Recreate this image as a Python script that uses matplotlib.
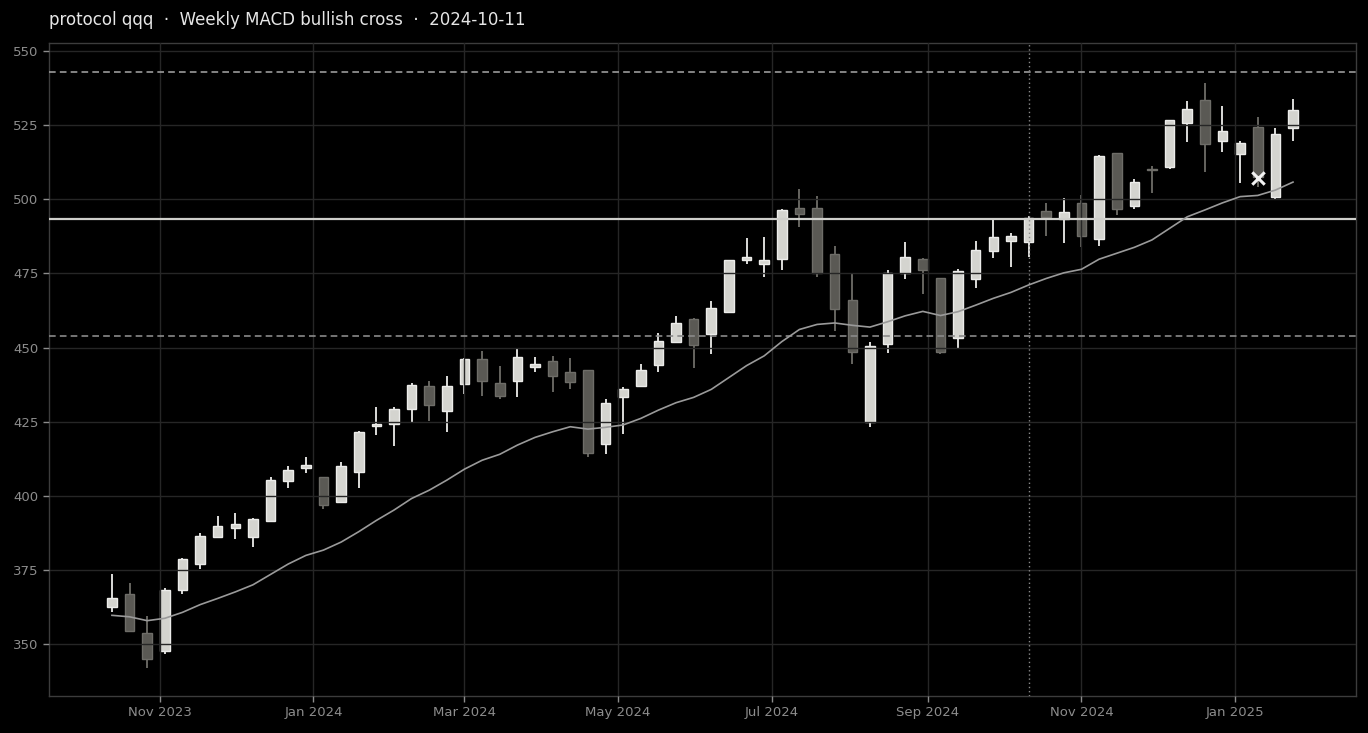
import matplotlib
matplotlib.use("Agg")
import matplotlib.pyplot as plt
import matplotlib.dates as mdates
import numpy as np
import pandas as pd

# ---- data ----
start_date = "2023-10-13"
n_weeks = 68
opens = [362.4, 366.8, 353.6, 347.7, 368.3, 376.9, 386.0, 389.0, 386.0, 391.6,
         404.9, 409.5, 406.2, 397.8, 408.2, 423.6, 424.1, 429.2, 437.2, 428.5,
         437.6, 446.0, 437.9, 438.6, 443.4, 445.3, 441.6, 442.3, 417.4, 433.2,
         437.1, 444.0, 451.8, 459.5, 454.5, 461.9, 479.4, 478.1, 480.0, 496.9,
         496.9, 481.4, 465.9, 424.9, 451.3, 475.1, 479.8, 473.3, 453.1, 473.0,
         482.7, 485.8, 485.5, 495.9, 493.2, 498.6, 486.7, 515.5, 497.8, 510.1,
         510.9, 525.6, 533.4, 519.5, 515.4, 524.3, 500.9, 524.2]
closes = [365.4, 354.5, 345.0, 368.1, 378.6, 386.3, 389.7, 390.4, 392.3, 405.5,
          408.6, 410.3, 396.8, 409.9, 421.4, 424.2, 429.3, 437.4, 430.5, 436.9,
          446.0, 438.8, 433.8, 446.7, 444.4, 440.3, 438.3, 414.6, 431.3, 436.0,
          442.3, 452.1, 458.2, 450.7, 463.2, 479.4, 480.4, 479.5, 496.3, 494.9,
          475.2, 462.9, 448.6, 450.6, 475.3, 480.4, 476.3, 448.6, 475.8, 482.9,
          487.2, 487.5, 493.6, 494.1, 495.6, 487.6, 514.5, 496.6, 506.0, 509.8,
          526.6, 530.6, 518.6, 523.0, 518.9, 507.5, 521.9, 530.0]
highs = [373.5, 370.5, 359.5, 368.8, 378.9, 387.5, 393.1, 394.1, 392.6, 406.4,
         410.1, 413.0, 406.4, 411.3, 421.8, 429.8, 430.1, 437.9, 438.8, 440.5,
         446.5, 448.7, 443.9, 449.4, 446.9, 447.3, 446.4, 442.6, 432.5, 436.6,
         444.3, 454.8, 460.6, 459.9, 465.6, 479.6, 486.8, 487.2, 496.6, 503.4,
         501.1, 484.4, 475.3, 452.0, 476.3, 485.6, 480.1, 473.5, 476.5, 486.1,
         493.5, 488.5, 494.3, 498.6, 500.3, 501.3, 514.9, 515.7, 507.0, 511.2,
         526.8, 533.0, 539.1, 531.3, 519.6, 527.8, 523.9, 533.7]
lows = [360.7, 354.1, 342.0, 346.6, 366.8, 375.2, 385.8, 385.5, 382.6, 391.2,
        402.8, 407.6, 395.5, 397.5, 402.8, 420.5, 416.8, 424.8, 425.2, 421.5,
        434.3, 433.6, 432.5, 433.2, 441.9, 434.9, 436.1, 413.0, 414.1, 420.8,
        436.6, 441.6, 451.5, 443.0, 447.7, 461.5, 478.1, 473.8, 476.1, 490.5,
        473.9, 455.5, 444.3, 423.3, 448.3, 473.2, 467.9, 447.8, 449.7, 470.0,
        480.1, 477.2, 480.4, 487.6, 485.1, 483.8, 484.2, 494.7, 496.6, 502.0,
        510.3, 519.2, 509.1, 516.1, 505.6, 504.2, 499.7, 519.8]
ma_line = [359.7, 359.2, 357.9, 358.7, 360.7, 363.3, 365.4, 367.6, 370.0, 373.5,
           377.0, 379.9, 381.7, 384.4, 387.9, 391.7, 395.2, 399.1, 401.9, 405.3,
           409.0, 412.0, 414.0, 417.1, 419.7, 421.6, 423.3, 422.5, 423.1, 423.9,
           426.1, 428.9, 431.4, 433.2, 435.9, 439.9, 443.9, 447.2, 452.0, 456.1,
           457.8, 458.3, 457.5, 456.9, 458.7, 460.7, 462.2, 460.8, 462.1, 464.3,
           466.6, 468.6, 471.1, 473.3, 475.2, 476.4, 479.8, 481.8, 483.8, 486.3,
           490.2, 494.1, 496.4, 498.8, 500.9, 501.3, 503.1, 505.8]
level_upper = 543.0
level_mid = 493.3
level_lower = 454.0
signal_date = "2024-10-11"
marker_date = "2025-01-10"
marker_price = 507.2
title_text = "protocol qqq  \u00b7  Weekly MACD bullish cross  \u00b7  2024-10-11"
y_ticks = [350, 375, 400, 425, 450, 475, 500, 525, 550]
x_tick_dates = ["2023-11-01", "2024-01-01", "2024-03-01", "2024-05-01",
                "2024-07-01", "2024-09-01", "2024-11-01", "2025-01-01"]

# ---- styling ----
BG = "#000000"
UP_FILL = "#d4d4cf"
UP_EDGE = "#ececea"
DN_FILL = "#5a5954"
DN_EDGE = "#6e6d68"
GRID = "#262626"
SPINE = "#3c3c3c"
TICK = "#8c8c8c"

dates = pd.date_range(start_date, periods=n_weeks, freq="7D")
x = mdates.date2num(dates)

fig = plt.figure(figsize=(13.68, 7.33), dpi=100, facecolor=BG)
ax = fig.add_axes([0.0358, 0.0505, 0.9554, 0.8908])
ax.set_facecolor(BG)

body_w = 3.8
for xi, o, c, h, l in zip(x, opens, closes, highs, lows):
    up = c >= o
    fill = UP_FILL if up else DN_FILL
    edge = UP_EDGE if up else DN_EDGE
    ax.vlines(xi, l, h, color=edge, linewidth=1.3, zorder=1.0)
    lo, hi = min(o, c), max(o, c)
    ax.bar(xi, max(hi - lo, 0.35), bottom=lo, width=body_w, color=fill,
           edgecolor=edge, linewidth=1.0, zorder=1.2)

ax.plot(x, ma_line, color="#9a9a9a", linewidth=1.2, zorder=5)

ax.axhline(level_upper, color="#9a9a9a", linestyle=(0, (4, 2.5)), linewidth=1.2, zorder=3)
ax.axhline(level_lower, color="#8a8a8a", linestyle=(0, (4, 2.5)), linewidth=1.2, zorder=3)
ax.axhline(level_mid, color="#cfcfcb", linestyle="-", linewidth=1.6, zorder=3)
ax.axvline(mdates.date2num(pd.Timestamp(signal_date)), color="#8a8a8a",
           linestyle=(0, (1, 2)), linewidth=1.0, zorder=3)

ax.scatter([mdates.date2num(pd.Timestamp(marker_date))], [marker_price], marker="x",
           s=80, color="#f2f2f2", linewidths=2.2, zorder=7)

ax.set_xlim(x[0] - 25, x[-1] + 25)
ax.set_ylim(332.5, 552.7)
ax.set_yticks(y_ticks)
ax.set_xticks(mdates.date2num(pd.to_datetime(x_tick_dates)))
ax.xaxis.set_major_formatter(mdates.DateFormatter("%b %Y"))

ax.set_axisbelow(False)
ax.grid(True, color=GRID, linewidth=1.0)
for gl in ax.get_xgridlines():
    gl.set_zorder(0.5)
for gl in ax.get_ygridlines():
    gl.set_zorder(2)
for s in ax.spines.values():
    s.set_color(SPINE)
    s.set_linewidth(1.0)
ax.tick_params(colors=TICK, labelsize=9.5, length=4, width=1.0)
for lab in ax.get_xticklabels() + ax.get_yticklabels():
    lab.set_color(TICK)

fig.text(0.0358, 0.973, title_text, ha="left", va="center", color="#e6e6e6", fontsize=12)

fig.savefig("out.png", dpi=100, facecolor=BG)
